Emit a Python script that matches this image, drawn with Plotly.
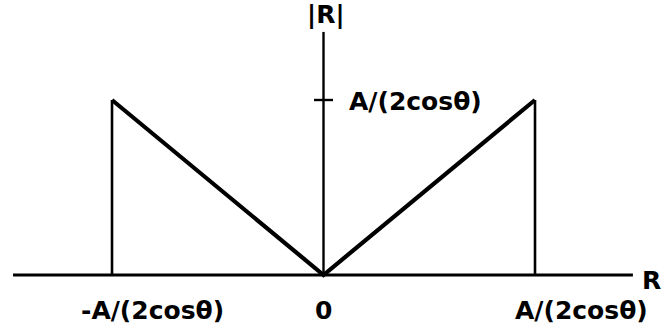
import plotly.graph_objects as go

# |R| as a function of R: a V between the two cut-offs at ±A/(2cosθ)
r_edges = [-1.0, 1.0]            # R at the cut-offs, in units of A/(2cosθ)
r_vals = [-1.0, 0.0, 1.0]        # V shape
mag_vals = [1.0, 0.0, 1.0]       # |R| on the V
peak = 1.0                       # |R| at the cut-offs
tick_labels = ["-A/(2cosθ)", "0", "A/(2cosθ)"]
tick_pos = [-1.0, 0.0, 1.0]
x_axis_span = [-1.468, 1.463]
y_axis_top = 1.389

FONT = "DejaVu Sans, Arial, Helvetica, sans-serif"
BLACK = "#000000"
LABEL_FONT = dict(size=25, family=FONT, color=BLACK, weight="bold")

fig = go.Figure()

# V shape
fig.add_trace(go.Scatter(x=r_vals, y=mag_vals, mode="lines",
                         line=dict(color=BLACK, width=4.2), hoverinfo="skip"))
# vertical drops at the cut-offs
for r in r_edges:
    fig.add_trace(go.Scatter(x=[r, r], y=[0, peak], mode="lines",
                             line=dict(color=BLACK, width=2.6), hoverinfo="skip"))

shapes = [
    # horizontal R axis
    dict(type="line", x0=x_axis_span[0], x1=x_axis_span[1], y0=0, y1=0,
         line=dict(color=BLACK, width=3)),
    # vertical |R| axis
    dict(type="line", x0=0, x1=0, y0=0, y1=y_axis_top,
         line=dict(color=BLACK, width=2.4)),
    # tick at the peak height
    dict(type="line", x0=-0.045, x1=0.045, y0=peak, y1=peak,
         line=dict(color=BLACK, width=2.4)),
]

annotations = [
    # axis names
    dict(x=0, y=y_axis_top, text="|R|", showarrow=False, yanchor="middle",
         xshift=2, yshift=17, font=LABEL_FONT),
    dict(x=x_axis_span[1], y=0, text="R", showarrow=False, xanchor="left",
         xshift=7, yshift=-5, font=LABEL_FONT),
    # label of the tick on the |R| axis
    dict(x=0, y=peak, text="A/(2cosθ)", showarrow=False, xanchor="left",
         xshift=23, yshift=-1, font=LABEL_FONT),
]
# labels under the R axis
shifts = [40, 0, 46]
for pos, lab, sh in zip(tick_pos, tick_labels, shifts):
    annotations.append(dict(x=pos, y=0, text=lab, showarrow=False,
                            yanchor="middle", yshift=-35, xshift=sh,
                            font=LABEL_FONT))

fig.update_layout(
    width=662, height=332,
    margin=dict(l=0, r=0, t=0, b=0),
    paper_bgcolor="white", plot_bgcolor="white",
    showlegend=False,
    shapes=shapes, annotations=annotations,
    xaxis=dict(range=[-1.5296, 1.6005], visible=False, fixedrange=True),
    yaxis=dict(range=[-0.3257, 1.5714], visible=False, fixedrange=True),
)

fig.write_html("out.html", config={"displayModeBar": False})
